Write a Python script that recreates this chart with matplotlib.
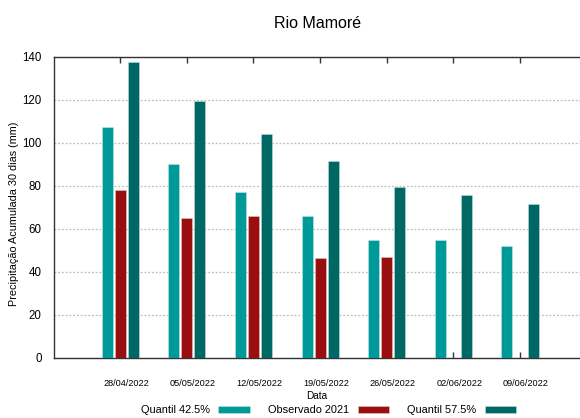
import numpy as np
import matplotlib
matplotlib.use('Agg')
import matplotlib.pyplot as plt
from matplotlib.transforms import ScaledTranslation

plt.rcParams['font.family'] = ['Liberation Sans', 'DejaVu Sans']

# dados
datas = ['28/04/2022', '05/05/2022', '12/05/2022', '19/05/2022',
         '26/05/2022', '02/06/2022', '09/06/2022']
q425 = [107.3, 90.1, 77.1, 66.0, 54.7, 55.0, 52.2]
obs2021 = [78.0, 64.8, 66.0, 46.3, 46.7, np.nan, np.nan]
q575 = [137.4, 119.5, 103.8, 91.7, 79.2, 75.7, 71.4]

cor_q425 = '#009999'
cor_obs = '#990e0e'
cor_q575 = '#006864'

fig = plt.figure(figsize=(5.8, 4.18), dpi=100)
ax = fig.add_axes([54/580, 1 - 358/418, 528/580, (358 - 56.5)/418])

x = np.arange(len(datas))
w = 0.165   # largura da barra
d = 0.196   # deslocamento entre barras
ax.bar(x - d, q425, w, color=cor_q425, edgecolor='#bfe6e6', linewidth=0.4, label='Quantil 42.5%', zorder=3)
ax.bar(x, obs2021, w, color=cor_obs, edgecolor='#e6c0c0', linewidth=0.4, label='Observado 2021', zorder=3)
ax.bar(x + d, q575, w, color=cor_q575, edgecolor='#bfdcdc', linewidth=0.4, label='Quantil 57.5%', zorder=3)

ax.set_xlim(-0.994, 6.93)
ax.set_ylim(0, 140)
ax.set_yticks(np.arange(0, 141, 20))
ax.yaxis.grid(True, linestyle=(0, (1.5, 1.5)), color='#bdbdbd', linewidth=0.9, zorder=0)
ax.set_axisbelow(True)

ax.set_xticks(x)
ax.set_xticklabels(datas, fontsize=6.6)
ax.tick_params(axis='x', direction='in', length=4, width=1, top=True, pad=15, colors='#333333', labelcolor='black')
ax.tick_params(axis='y', length=0, pad=9, labelsize=8.3)
for lab in ax.get_xticklabels():
    lab.set_transform(lab.get_transform() + ScaledTranslation(6/100, 0, fig.dpi_scale_trans))

for s in ['left', 'top', 'bottom']:
    ax.spines[s].set_color('#333333')
    ax.spines[s].set_linewidth(1.0)
ax.spines['right'].set_visible(False)

ax.set_xlabel('Data', fontsize=7.2)
ax.xaxis.set_label_coords((316 - 54)/526, (358 - 396)/301.5)
ax.xaxis.label.set_va('center')

ax.set_ylabel('Precipitação Acumulada 30 dias (mm)', fontsize=7.8)
ax.yaxis.set_label_coords((14 - 54)/526, (358 - 214)/301.5)
ax.yaxis.label.set_va('center')

fig.text(318/580, 1 - 23/418, 'Rio Mamoré', fontsize=11.5, ha='center', va='center')

ax.legend(loc='center', bbox_to_anchor=(328.5/580, 1 - 410/418), bbox_transform=fig.transFigure,
          ncol=3, frameon=False, markerfirst=False, fontsize=7.9,
          handlelength=2.85, handleheight=0.6, handletextpad=0.8, columnspacing=1.65,
          borderpad=0, borderaxespad=0)

fig.savefig('out.png', dpi=100)
